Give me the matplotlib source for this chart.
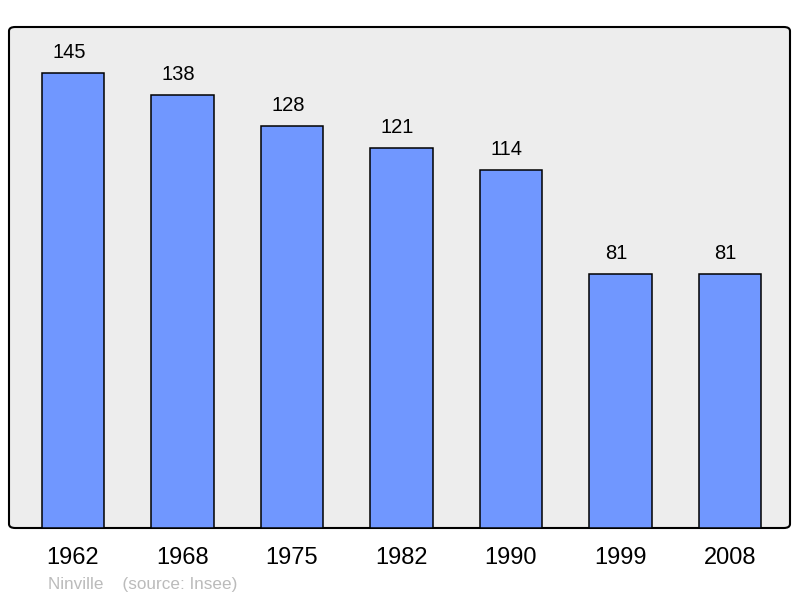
import numpy as np
import matplotlib.pyplot as plt
from matplotlib.patches import FancyBboxPatch

plt.rcParams['font.family'] = ['Liberation Sans', 'DejaVu Sans']

years = ['1962', '1968', '1975', '1982', '1990', '1999', '2008']
population = [145, 138, 128, 121, 114, 81, 81]

fig = plt.figure(figsize=(8, 5.98), dpi=100)
ax = fig.add_axes([9/800, 70/598, 781/800, 501/598])
ax.patch.set_visible(False)
for s in ax.spines.values():
    s.set_visible(False)

# cadre arrondi
cadre = FancyBboxPatch((0, 0), 1, 1, boxstyle='round,pad=0,rounding_size=0.008',
                       transform=ax.transAxes, facecolor='#ededed', edgecolor='black',
                       linewidth=1.5, clip_on=False, zorder=0)
ax.add_patch(cadre)

x = np.arange(len(years))
bars = ax.bar(x, population, width=0.57, color='#7097ff', edgecolor='black',
              linewidth=1.1, zorder=2)
for xi, v in zip(x, population):
    ax.annotate(str(v), (xi, v), xytext=(-3, 15), textcoords='offset points',
                ha='center', va='center', fontsize=14.5)

ax.set_xlim(-0.585, 6.55)
ax.set_ylim(0, 159.7)
ax.set_yticks([])
ax.set_xticks(x)
ax.set_xticklabels(years, fontsize=17)
ax.tick_params(axis='x', length=0, pad=13.5)

fig.text(48/800, 1 - 585/598, 'Ninville    (source: Insee)', fontsize=12.3,
         color='#bbbbbb', va='center', ha='left')

fig.savefig('out.png', dpi=100)
